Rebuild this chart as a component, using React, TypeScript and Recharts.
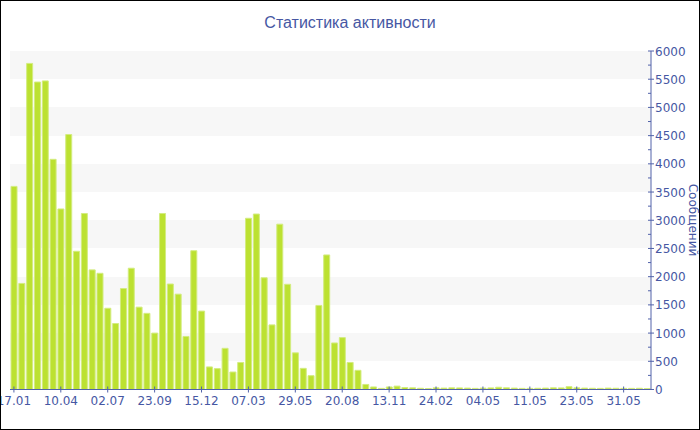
import { BarChart, Bar, XAxis, YAxis, CartesianGrid } from 'recharts'

const dates = [
  '17.01', '31.01', '14.02', '28.02', '13.03', '27.03',
  '10.04', '24.04', '08.05', '22.05', '05.06', '19.06',
  '02.07', '16.07', '30.07', '13.08', '27.08', '10.09',
  '23.09', '07.10', '21.10', '04.11', '18.11', '02.12',
  '15.12', '29.12', '12.01', '26.01', '09.02', '23.02',
  '07.03', '21.03', '04.04', '18.04', '02.05', '16.05',
  '29.05', '12.06', '26.06', '10.07', '24.07', '07.08',
  '20.08', '03.09', '17.09', '01.10', '15.10', '29.10',
  '13.11', '27.11', '11.12', '25.12', '22.01', '05.02',
  '24.02', '10.03', '24.03', '07.04', '14.04', '28.04',
  '04.05', '05.05', '06.05', '07.05', '09.05', '10.05',
  '11.05', '13.05', '15.05', '17.05', '19.05', '21.05',
  '23.05', '24.05', '26.05', '27.05', '28.05', '30.05',
  '31.05', '01.06', '02.06', '03.06',
]

const messages = [
  3600, 1880, 5780, 5450, 5470, 4080,
  3200, 4520, 2450, 3120, 2120, 2060,
  1440, 1170, 1790, 2150, 1460, 1350,
  1000, 3120, 1870, 1690, 940, 2460,
  1390, 400, 370, 730, 310, 480,
  3035, 3110, 1980, 1145, 2930, 1865,
  650, 375, 245, 1490, 2385, 825,
  920, 480, 340, 90, 45, 20,
  45, 60, 35, 30, 22, 18,
  30, 25, 30, 28, 25, 20,
  25, 28, 40, 30, 25, 20,
  20, 22, 25, 30, 28, 50,
  30, 25, 22, 20, 25, 22,
  20, 20, 22, 18,
]

const yTicks = [0, 500, 1000, 1500, 2000, 2500, 3000, 3500, 4000, 4500, 5000, 5500, 6000]

const data = dates.map((d, i) => ({ date: d, value: messages[i] }))

const AXIS = '#5263aa'
const TEXT = '#4657a3'
const FONT = '"DejaVu Sans", Verdana, sans-serif'
const PLOT_H = 338.5
const MINOR = PLOT_H / 24

function YTick({ x, y, payload }: any) {
  return (
    <g>
      <line x1={x - 3} x2={x + 3} y1={y} y2={y} stroke={AXIS} />
      {payload.value < 6000 && <line x1={x - 3} x2={x} y1={y - MINOR} y2={y - MINOR} stroke={AXIS} />}
      <text x={x + 4} y={y} dy={4.5} fill={TEXT} fontSize={12} fontFamily={FONT}>{payload.value}</text>
    </g>
  )
}

function XTick({ x, y, payload }: any) {
  return (
    <g>
      <line x1={x} x2={x} y1={y - 3} y2={y + 3} stroke={AXIS} />
      <text x={x} y={y + 15} textAnchor="middle" fill={TEXT} fontSize={12} fontFamily={FONT}>{payload.value}</text>
    </g>
  )
}

function AxisTitle() {
  return (
    <text x={689} y={220} transform="rotate(90, 689, 220)" textAnchor="middle" fill={TEXT} fontSize={12} fontFamily={FONT}>
      Сообщений
    </text>
  )
}

export default function App() {
  return (
    <div style={{ position: 'fixed', left: 0, top: 0, width: 700, height: 430, background: '#fff' }}>
      <div style={{ position: 'absolute', top: 14, left: 0, width: 700, textAlign: 'center', color: TEXT, fontSize: 16, fontFamily: '"Liberation Sans", Arial, sans-serif' }}>
        Статистика активности
      </div>
      <BarChart width={700} height={430} data={data} barCategoryGap="13%" margin={{ top: 51, right: 0, left: 10, bottom: 10.5 }}>
        <CartesianGrid vertical={false} stroke="none" horizontalFill={['#f7f7f7', 'transparent']} />
        <XAxis dataKey="date" interval={5} height={30} stroke={AXIS} tickSize={0} tickMargin={0} tickLine={false} tick={<XTick />} />
        <YAxis orientation="right" width={49} domain={[0, 6000]} ticks={yTicks} stroke={AXIS} tickSize={0} tickMargin={0} tickLine={false} tick={<YTick />} label={<AxisTitle />} />
        <Bar dataKey="value" fill="#bce131" stroke="#d3ec80" strokeWidth={1} isAnimationActive={false} />
      </BarChart>
      <div style={{ position: 'absolute', inset: 0, border: '1px solid #000', pointerEvents: 'none' }} />
    </div>
  )
}
